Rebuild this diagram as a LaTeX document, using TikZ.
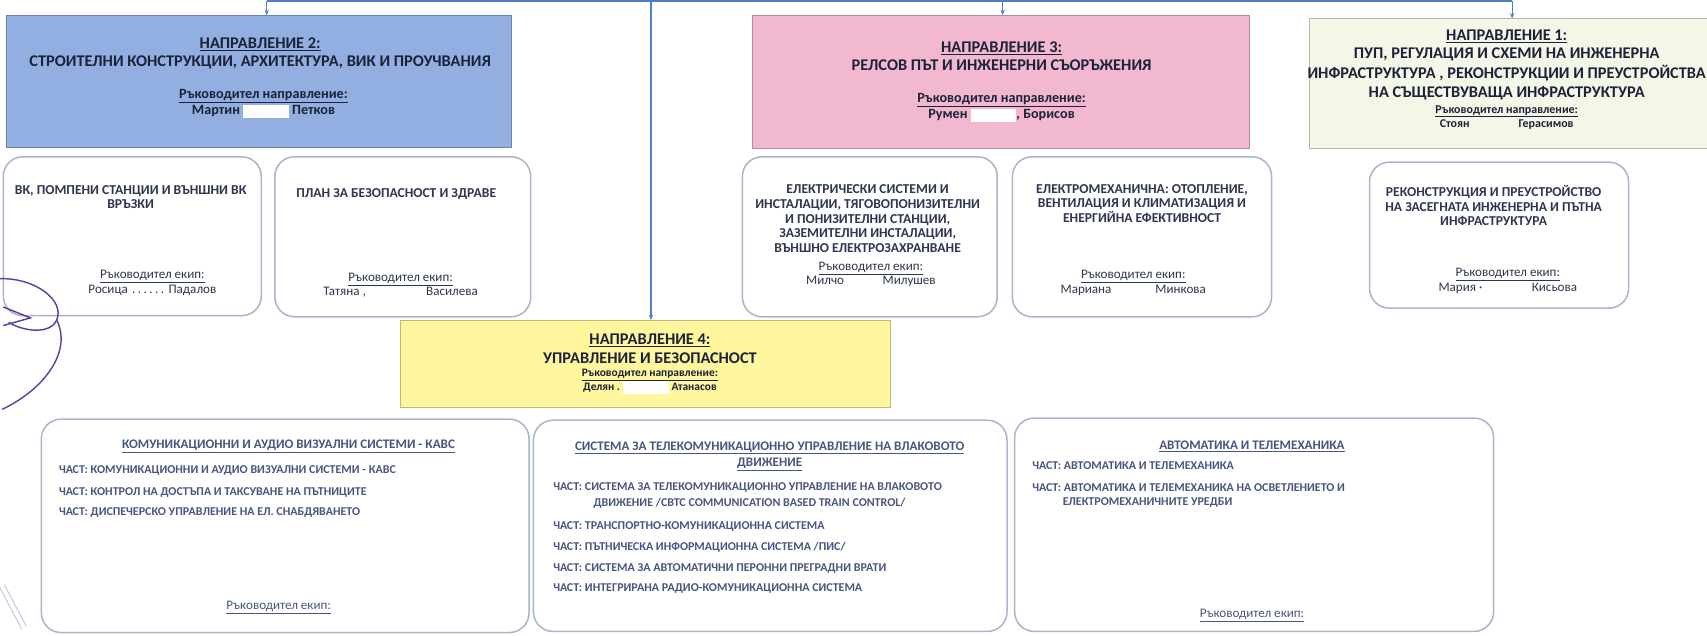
\documentclass[tikz,border=0pt]{standalone}
\usepackage{fontspec}
\setmainfont{Carlito}
\usetikzlibrary{arrows.meta}
\definecolor{dirblue}{RGB}{147,174,224}
\definecolor{dirpink}{RGB}{241,184,208}
\definecolor{dirgreen}{RGB}{244,247,232}
\definecolor{diryellow}{RGB}{255,246,157}
\definecolor{linkblue}{RGB}{84,124,196}
\definecolor{teamline}{RGB}{170,180,202}
\definecolor{headink}{RGB}{28,34,56}
\definecolor{teamink}{RGB}{46,54,80}
\definecolor{partink}{RGB}{72,86,128}
\definecolor{signink}{RGB}{88,64,160}
\newcommand{\redact}[1]{\textcolor{white}{\rule[-3pt]{#1}{12pt}}}

\begin{document}
\begin{tikzpicture}[x=1pt,y=-1pt,
    dirbox/.style={draw=#1!75!black, fill=#1, line width=0.8pt, inner sep=0pt, outer sep=0pt},
    teambox/.style={draw=teamline, fill=white, line width=1.4pt, rounded corners=18pt, inner sep=0pt, outer sep=0pt},
    link/.style={draw=linkblue, line width=1.2pt},
    arr/.style={link, -{Stealth[length=5pt,width=4pt]}},
    head/.style={inner sep=0pt, align=center, text=headink, font=\fontsize{15}{17}\selectfont\bfseries},
    lead/.style={inner sep=0pt, align=center, text=headink, font=\fontsize{13}{15}\selectfont\bfseries},
    team/.style={inner sep=0pt, align=center, text=teamink, font=\fontsize{12.5}{13.5}\selectfont\bfseries},
    mem/.style={inner sep=0pt, align=center, text=teamink, font=\fontsize{12}{13.5}\selectfont},
    parthead/.style={inner sep=0pt, align=center, text=partink, font=\fontsize{12}{15}\selectfont\bfseries},
    part/.style={inner sep=0pt, anchor=west, text=partink, font=\fontsize{11}{12}\selectfont\bfseries},
    sign/.style={draw=signink, line width=1.3pt}]

    \useasboundingbox (0,0) rectangle (1568,584);

    \node[dirbox=dirblue, minimum width=464pt, minimum height=121pt] (dir2) at (238,74.5) {};
    \node[dirbox=dirpink, minimum width=457pt, minimum height=122pt] (dir3) at (919.5,75) {};
    \node[dirbox=dirgreen, minimum width=369pt, minimum height=119pt] (dir1) at (1387.5,76.5) {};
    \node[dirbox=diryellow, minimum width=450pt, minimum height=80pt] (dir4) at (593,334) {};

    \node[teambox, minimum width=237pt, minimum height=146pt] (vik) at (121.5,217) {};
    \node[teambox, minimum width=235pt, minimum height=147pt] (plan) at (370,217.5) {};
    \node[teambox, minimum width=234pt, minimum height=147pt] (elsys) at (799,217.5) {};
    \node[teambox, minimum width=238pt, minimum height=147pt] (elmeh) at (1049,217.5) {};
    \node[teambox, minimum width=238pt, minimum height=134pt] (rekon) at (1377,216) {};
    \node[teambox, minimum width=448pt, minimum height=196pt] (kavs) at (262,483) {};
    \node[teambox, minimum width=435pt, minimum height=194pt] (cbtc) at (707.5,483) {};
    \node[teambox, minimum width=440pt, minimum height=196pt] (avt) at (1152,482) {};

    \coordinate (j2) at (245,1);
    \coordinate (j4) at (598,1);
    \coordinate (j3) at (921,1);
    \coordinate (j1) at (1389,1);
    \draw[link] (j2) -- (j1);
    \draw[arr] (j2) -- (j2 |- dir2.north);
    \draw[arr] (j3) -- (j3 |- dir3.north);
    \draw[arr] (j1) -- (j1 |- dir1.north);
    \draw[arr] (j4) -- (j4 |- dir4.north);

    \node[head] (h2) at (239,41) {\underline{НАПРАВЛЕНИЕ 2:}};
    \node[head] (n2) at (239,57) {СТРОИТЕЛНИ КОНСТРУКЦИИ, АРХИТЕКТУРА, ВИК И ПРОУЧВАНИЯ};
    \node[lead] (r2) at (242,95) {\underline{Ръководител направление:}\\Мартин \redact{42pt} Петков};

    \node[head] (h3) at (920,44) {\underline{НАПРАВЛЕНИЕ 3:}};
    \node[head] (n3) at (920,60) {РЕЛСОВ ПЪТ И ИНЖЕНЕРНИ СЪОРЪЖЕНИЯ};
    \node[lead] (r3) at (920,98.5) {\underline{Ръководител направление:}\\Румен \redact{42pt}, Борисов};

    \node[head] (h1) at (1384,33) {\underline{НАПРАВЛЕНИЕ 1:}};
    \node[head, font=\fontsize{15}{18}\selectfont\bfseries] (n1) at (1384,68) {ПУП, РЕГУЛАЦИЯ И СХЕМИ НА ИНЖЕНЕРНА\\ИНФРАСТРУКТУРА , РЕКОНСТРУКЦИИ И ПРЕУСТРОЙСТВА\\НА СЪЩЕСТВУВАЩА ИНФРАСТРУКТУРА};
    \node[lead, font=\fontsize{11}{13.5}\selectfont\bfseries] (r1) at (1384,108) {\underline{Ръководител направление:}\\Стоян \hspace{40pt} Герасимов};

    \node[head] (h4) at (597,313) {\underline{НАПРАВЛЕНИЕ 4:}};
    \node[head] (n4) at (597,329) {УПРАВЛЕНИЕ И БЕЗОПАСНОСТ};
    \node[lead, font=\fontsize{10.5}{13}\selectfont\bfseries] (r4) at (597,350.5) {\underline{Ръководител направление:}\\Делян . \redact{42pt} Атанасов};

    \node[team] (t-vik) at (120,181) {ВК, ПОМПЕНИ СТАНЦИИ И ВЪНШНИ ВК\\ВРЪЗКИ};
    \node[mem] (m-vik) at (140,260) {\underline{Ръководител екип:}\\Росица \makebox[32pt]{\dotfill} Падалов};
    \node[team] (t-plan) at (364,178) {ПЛАН ЗА БЕЗОПАСНОСТ И ЗДРАВЕ};
    \node[mem] (m-plan) at (368,262) {\underline{Ръководител екип:}\\Татяна , \hspace{50pt} Василева};
    \node[team] (t-elsys) at (797,201) {ЕЛЕКТРИЧЕСКИ СИСТЕМИ И\\ИНСТАЛАЦИИ, ТЯГОВОПОНИЗИТЕЛНИ\\И ПОНИЗИТЕЛНИ СТАНЦИИ,\\ЗАЗЕМИТЕЛНИ ИНСТАЛАЦИИ,\\ВЪНШНО ЕЛЕКТРОЗАХРАНВАНЕ};
    \node[mem] (m-elsys) at (800,252) {\underline{Ръководител екип:}\\Милчо \hspace{30pt} Милушев};
    \node[team] (t-elmeh) at (1049,187) {ЕЛЕКТРОМЕХАНИЧНА: ОТОПЛЕНИЕ,\\ВЕНТИЛАЦИЯ И КЛИМАТИЗАЦИЯ И\\ЕНЕРГИЙНА ЕФЕКТИВНОСТ};
    \node[mem] (m-elmeh) at (1041,260) {\underline{Ръководител екип:}\\Мариана \hspace{35pt} Минкова};
    \node[team] (t-rekon) at (1372,189) {РЕКОНСТРУКЦИЯ И ПРЕУСТРОЙСТВО\\НА ЗАСЕГНАТА ИНЖЕНЕРНА И ПЪТНА\\ИНФРАСТРУКТУРА};
    \node[mem] (m-rekon) at (1385,258) {\underline{Ръководител екип:}\\Мария · \hspace{40pt} Кисьова};

    \node[parthead] (t-kavs) at (265,410) {\underline{КОМУНИКАЦИОННИ И АУДИО ВИЗУАЛНИ СИСТЕМИ - КАВС}};
    \node[part] (k1) at (54,432) {ЧАСТ: КОМУНИКАЦИОННИ И АУДИО ВИЗУАЛНИ СИСТЕМИ - КАВС};
    \node[part] (k2) at (54,452) {ЧАСТ: КОНТРОЛ НА ДОСТЪПА И ТАКСУВАНЕ НА ПЪТНИЦИТЕ};
    \node[part] (k3) at (54,471) {ЧАСТ: ДИСПЕЧЕРСКО УПРАВЛЕНИЕ НА ЕЛ. СНАБДЯВАНЕТО};
    \node[mem, text=partink] (m-kavs) at (256,558) {\underline{Ръководител екип:}};

    \node[parthead] (t-cbtc) at (707,419) {\underline{СИСТЕМА ЗА ТЕЛЕКОМУНИКАЦИОННО УПРАВЛЕНИЕ НА ВЛАКОВОТО}\\\underline{ДВИЖЕНИЕ}};
    \node[part] (c1) at (508,448) {ЧАСТ: СИСТЕМА ЗА ТЕЛЕКОМУНИКАЦИОННО УПРАВЛЕНИЕ НА ВЛАКОВОТО};
    \node[part] (c1b) at (545,462) {ДВИЖЕНИЕ /CBTC COMMUNICATION BASED TRAIN CONTROL/};
    \node[part] (c2) at (508,484) {ЧАСТ: ТРАНСПОРТНО-КОМУНИКАЦИОННА СИСТЕМА};
    \node[part] (c3) at (508,503) {ЧАСТ: ПЪТНИЧЕСКА ИНФОРМАЦИОННА СИСТЕМА /ПИС/};
    \node[part] (c4) at (508,522) {ЧАСТ: СИСТЕМА ЗА АВТОМАТИЧНИ ПЕРОННИ ПРЕГРАДНИ ВРАТИ};
    \node[part] (c5) at (508,541) {ЧАСТ: ИНТЕГРИРАНА РАДИО-КОМУНИКАЦИОННА СИСТЕМА};

    \node[parthead] (t-avt) at (1150,410) {\underline{АВТОМАТИКА И ТЕЛЕМЕХАНИКА}};
    \node[part] (a1) at (948,428) {ЧАСТ: АВТОМАТИКА И ТЕЛЕМЕХАНИКА};
    \node[part] (a2) at (948,448) {ЧАСТ: АВТОМАТИКА И ТЕЛЕМЕХАНИКА НА ОСВЕТЛЕНИЕТО И};
    \node[part] (a2b) at (976,462) {ЕЛЕКТРОМЕХАНИЧНИТЕ УРЕДБИ};
    \node[mem, text=partink] (m-avt) at (1150,565) {\underline{Ръководител екип:}};

    \draw[sign] (0,256) .. controls (32,255) and (60,276) .. (52,294) .. controls (46,308) and (20,304) .. (8,296);
    \draw[sign] (3,282) -- (28,292) -- (3,299);
    \draw[sign] (52,294) .. controls (66,320) and (44,356) .. (2,376);
    \draw[sign, draw=signink!35, line width=0.8pt] (0,540) -- (20,578);
    \draw[sign, draw=signink!35, line width=0.8pt] (4,537) -- (24,575);

\end{tikzpicture}
\end{document}
